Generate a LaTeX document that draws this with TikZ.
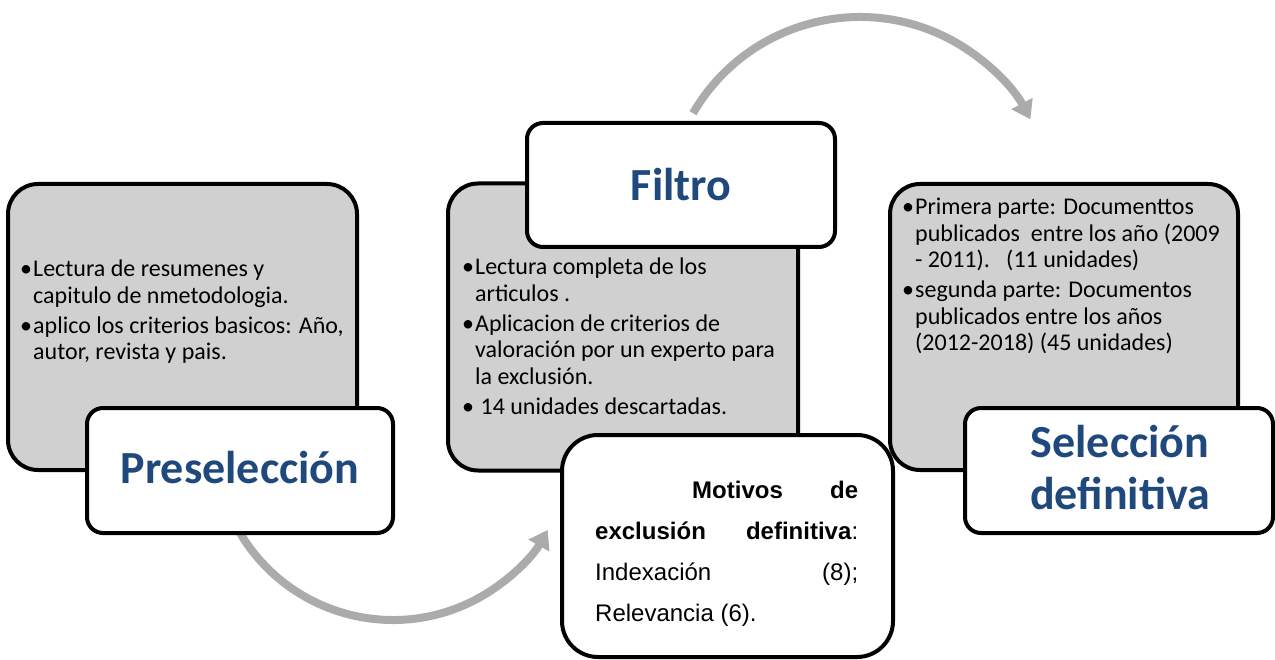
\documentclass[tikz,border=0pt]{standalone}
\usepackage{fontspec}
\setmainfont{Carlito}
\newfontfamily\arialf{Liberation Sans}
\usetikzlibrary{arrows.meta,calc}
\definecolor{boxgray}{HTML}{D0D0D0}
\definecolor{arrowgray}{HTML}{ABABAB}
\definecolor{titleblue}{HTML}{1F497D}
\newcommand\bitem[1]{\par\hangindent=13pt\hangafter=1\noindent\makebox[13pt][l]{•}#1\par\vspace{3.5pt}}
\tikzset{
  graybox/.style={draw=black, line width=4pt, fill=boxgray, rounded corners=30pt, inner sep=0pt},
  titlebox/.style={draw=black, line width=4pt, fill=white, rounded corners=16pt, inner sep=0pt},
  motbox/.style={draw=black, line width=4pt, fill=white, rounded corners=36pt, inner sep=0pt},
  bullettext/.style={anchor=base west, inner sep=0pt, font=\fontsize{24}{26.5}\selectfont},
  titletext/.style={inner sep=0pt, text=titleblue, font=\fontsize{46}{52}\selectfont\bfseries, align=center},
  flowarrow/.style={draw=arrowgray, line width=8pt, -{Triangle[width=23pt,length=18pt]}}
}
\begin{document}
\begin{tikzpicture}[x=1pt,y=1pt]
\useasboundingbox (0,0) rectangle (1275,-660);
% arrows
\coordinate (a1s) at ($(393,-442)+(210.7:178)$);
\draw[flowarrow] (a1s) arc[start angle=210.7, end angle=330.4, radius=178];
\coordinate (a2s) at ($(860,-210)+(149.9:193)$);
\draw[flowarrow] (a2s) arc[start angle=149.9, end angle=28, radius=193];
% gray boxes
\node[graybox, minimum width=349, minimum height=286] (pre) at (182.5,-327) {};
\node[graybox, minimum width=350, minimum height=287] (fil) at (623,-327) {};
\node[graybox, minimum width=348, minimum height=286] (sel) at (1064,-327) {};
% bullet texts
\node[bullettext] (pretext) at (20,-277) {\begin{minipage}[t]{340pt}
\bitem{Lectura de resumenes y\\capitulo de nmetodologia.}
\bitem{aplico los criterios basicos: Año,\\autor, revista y pais.}
\end{minipage}};
\node[bullettext] (filtext) at (462,-275) {\begin{minipage}[t]{340pt}
\bitem{Lectura completa de los\\articulos .}
\bitem{Aplicacion de criterios de\\valoración por un experto para\\la exclusión.}
\bitem{\ 14 unidades descartadas.}
\end{minipage}};
\node[bullettext] (seltext) at (902,-215) {\begin{minipage}[t]{340pt}
\bitem{Primera parte: Documenttos\\publicados\ \ entre los año (2009\\- 2011).\ \ \ (11 unidades)}
\bitem{segunda parte: Documentos\\publicados entre los años\\(2012-2018) (45 unidades)}
\end{minipage}};
% title boxes
\node[titlebox, minimum width=306, minimum height=125] (pretitle) at (240,-470.5) {};
\node[titletext] at (240,-468) {Preselección};
\node[titlebox, minimum width=308, minimum height=124] (filtitle) at (681,-185) {};
\node[titletext] at (681,-185) {Filtro};
\node[titlebox, minimum width=308, minimum height=125] (seltitle) at (1119,-470.5) {};
\node[titletext] at (1120,-468) {Selección\\definitiva};
% motivos box
\node[motbox, minimum width=331, minimum height=222] (mot) at (727.5,-546) {};
\node[anchor=base west, inner sep=0pt, font=\arialf\fontsize{24}{41}\selectfont] (mottext) at (595,-498) {\begin{minipage}[t]{263pt}
\hbox to 263pt{\hspace{97pt}\textbf{Motivos}\hfill\textbf{de}}
\hbox to 263pt{\textbf{exclusión}\hfill\textbf{definitiva}:}
\hbox to 263pt{Indexación\hfill(8);}
\hbox to 263pt{Relevancia (6).\hfill}
\end{minipage}};
\end{tikzpicture}
\end{document}
